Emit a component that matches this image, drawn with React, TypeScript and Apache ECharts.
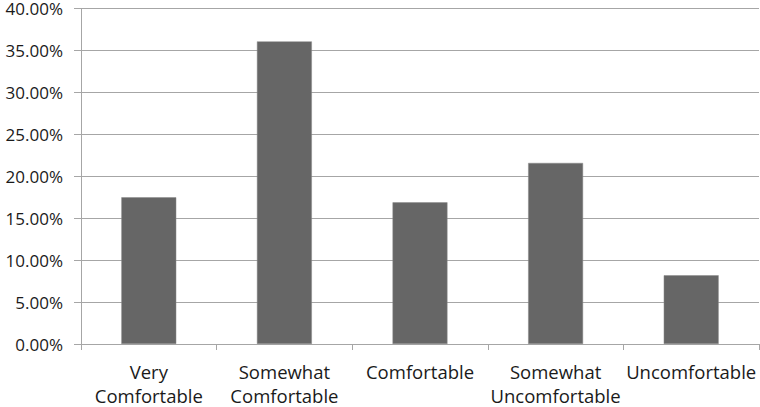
import React, { useEffect, useRef } from "react";
import * as echarts from "echarts";

const categories = [
  "Very\nComfortable",
  "Somewhat\nComfortable",
  "Comfortable",
  "Somewhat\nUncomfortable",
  "Uncomfortable",
];
const values = [17.5, 36.1, 16.9, 21.6, 8.2];

export default function App() {
  const ref = useRef<HTMLDivElement>(null);
  useEffect(() => {
    const chart = echarts.init(ref.current!, null, { renderer: "svg" });
    const lineColor = "#a6a6a6";
    chart.setOption({
      animation: false,
      grid: { left: 81, right: 1, top: 8.7, bottom: 61.3, containLabel: false },
      xAxis: {
        type: "category",
        data: categories,
        axisLine: { show: true, lineStyle: { color: lineColor, width: 1 } },
        axisTick: { show: true, length: 6, lineStyle: { color: lineColor } },
        axisLabel: {
          color: "#1a1a1a",
          fontFamily: "Open Sans",
          fontSize: 18.5,
          lineHeight: 24,
          margin: 15,
          interval: 0,
        },
      },
      yAxis: {
        type: "value",
        min: 0,
        max: 40,
        interval: 5,
        axisLine: { show: true, lineStyle: { color: lineColor, width: 1 } },
        axisTick: { show: true, length: 7, lineStyle: { color: lineColor } },
        splitLine: { show: true, lineStyle: { color: lineColor, width: 1 } },
        axisLabel: {
          color: "#1a1a1a",
          fontFamily: "Open Sans",
          fontSize: 17,
          margin: 18,
          formatter: (v: number) => v.toFixed(2) + "%",
        },
      },
      series: [
        {
          type: "bar",
          data: values,
          barWidth: "40.5%",
          itemStyle: { color: "#666666", borderColor: "#8a8a8a", borderWidth: 0.5 },
        },
      ],
    });
    return () => chart.dispose();
  }, []);
  return (
    <div
      ref={ref}
      style={{ position: "fixed", left: 0, top: 0, width: 760, height: 407, background: "#fff" }}
    />
  );
}
